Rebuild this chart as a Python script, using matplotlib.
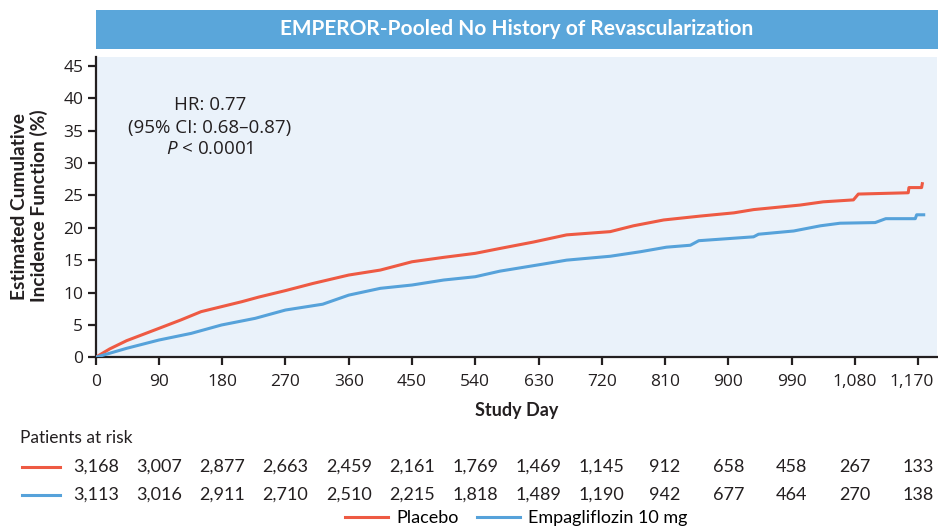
import matplotlib.pyplot as plt
from matplotlib.patches import Rectangle
from matplotlib.transforms import blended_transform_factory, ScaledTranslation

plt.rcParams['font.family'] = ['Open Sans', 'DejaVu Sans']
plt.rcParams['mathtext.fontset'] = 'custom'
plt.rcParams['mathtext.it'] = 'Open Sans:italic'
plt.rcParams['mathtext.rm'] = 'Open Sans'

# datos
dias_placebo = [0, 20, 44, 90, 121, 150, 179, 208, 232, 270, 309, 360, 405, 450, 495, 540,
                575, 623, 670, 732, 765, 808, 860, 908, 936, 1002, 1035, 1078, 1085,
                1156, 1157, 1175, 1176]
cif_placebo = [0, 1.3, 2.57, 4.47, 5.76, 7.05, 7.82, 8.59, 9.3, 10.3, 11.4, 12.7, 13.47, 14.75,
               15.43, 16.05, 16.8, 17.8, 18.9, 19.4, 20.3, 21.2, 21.8, 22.3, 22.8, 23.5, 24.0,
               24.3, 25.2, 25.4, 26.2, 26.2, 26.8]

dias_empa = [0, 44, 90, 136, 179, 227, 270, 323, 360, 405, 450, 495, 540, 575, 637, 670, 732,
             775, 812, 846, 858, 936, 943, 993, 1031, 1059, 1109, 1124, 1166, 1168, 1178]
cif_empa = [0, 1.39, 2.67, 3.70, 4.99, 6.02, 7.3, 8.2, 9.6, 10.65, 11.16, 11.93, 12.44, 13.3,
            14.4, 15.0, 15.6, 16.3, 17.0, 17.3, 18.0, 18.6, 19.0, 19.5, 20.3, 20.7, 20.8, 21.4,
            21.4, 22.0, 22.0]

ticks_x = [0, 90, 180, 270, 360, 450, 540, 630, 720, 810, 900, 990, 1080, 1170]
rotulos_x = ['0', '90', '180', '270', '360', '450', '540', '630', '720', '810', '900', '990',
             '1,080', '1,170']
risco_placebo = ['3,168', '3,007', '2,877', '2,663', '2,459', '2,161', '1,769', '1,469', '1,145',
                 '912', '658', '458', '267', '133']
risco_empa = ['3,113', '3,016', '2,911', '2,710', '2,510', '2,215', '1,818', '1,489', '1,190',
              '942', '677', '464', '270', '138']

vermelho = '#EE5A43'
azul = '#56A2DA'
escuro = '#231F20'
narrow = ['Lato', 'DejaVu Sans']

fig = plt.figure(figsize=(9.38, 5.3), dpi=100)
ax = fig.add_axes([0.102, 0.3258, 0.897, 0.5666])
ax.set_facecolor('#EAF2FA')

l1, = ax.plot(dias_placebo, cif_placebo, color=vermelho, lw=2.2, label='Placebo', zorder=3)
l2, = ax.plot(dias_empa, cif_empa, color=azul, lw=2.2, label='Empagliflozin 10 mg', zorder=3)

ax.set_xlim(0, 1197)
ax.set_ylim(0, 46.35)
ax.set_xticks(ticks_x)
ax.set_xticklabels(rotulos_x)
ax.set_yticks(range(0, 50, 5))
for s in ['top', 'right']:
    ax.spines[s].set_visible(False)
for s in ['left', 'bottom']:
    ax.spines[s].set_linewidth(1.6)
    ax.spines[s].set_color(escuro)
ax.tick_params(direction='out', length=6, width=1.6, color=escuro, labelsize=12.5,
               labelcolor=escuro, pad=3)
ax.tick_params(axis='x', pad=6)
# o ultimo rotulo fica um pouco a esquerda para caber
ultimo = ax.get_xticklabels()[-1]
ultimo.set_transform(ultimo.get_transform() + ScaledTranslation(-0.06, 0, fig.dpi_scale_trans))

ax.set_xlabel('Study Day', fontsize=13, fontweight='bold', family=narrow, color=escuro, labelpad=9)
fig.text(29.5 / 938, 1 - 206 / 530, 'Estimated Cumulative\nIncidence Function (%)', rotation=90,
         ha='center', va='center', fontsize=13.8, fontweight='bold', family=narrow, color=escuro,
         linespacing=1.1)

tx = blended_transform_factory(fig.transFigure, ax.transData)
ax.text(210 / 938, 39.0, 'HR: 0.77', ha='center', va='center', fontsize=13.5, color=escuro,
        transform=tx)
ax.text(210 / 938, 35.4, '(95% CI: 0.68\u20130.87)', ha='center', va='center', fontsize=13.5,
        color=escuro, transform=tx)
ax.text(210 / 938, 32.1, r'$\it{P}$ < 0.0001', ha='center', va='center', fontsize=13.5,
        color=escuro, transform=tx)

# barra do titulo
fig.patches.append(Rectangle((0.102, 1 - 49 / 530), 0.898, 39 / 530, transform=fig.transFigure,
                             facecolor='#5AA6DA', edgecolor='none'))
fig.text(0.551, 1 - 29 / 530, 'EMPEROR-Pooled No History of Revascularization', ha='center',
         va='center', fontsize=15, fontweight='bold', color='white', family=narrow)

# pacientes em risco
fig.text(20 / 938, 1 - 438 / 530, 'Patients at risk', ha='left', va='center', fontsize=12.5,
         color=escuro, family=narrow)
trans = blended_transform_factory(ax.transData, fig.transFigure)
for linha, valores, cor in [(467, risco_placebo, vermelho), (495, risco_empa, azul)]:
    y = 1 - linha / 530
    fig.add_artist(plt.Line2D([22 / 938, 60 / 938], [y, y], color=cor, lw=2.2,
                              transform=fig.transFigure))
    for x, v in zip(ticks_x, valores):
        fig.text(x, y, v, ha='center', va='center', fontsize=13, color=escuro, family=narrow,
                 transform=trans)

fig.legend(handles=[l1, l2], loc='center', bbox_to_anchor=(0.5506, 0.0226), ncol=2,
           frameon=False, handlelength=2.4, handletextpad=0.45, columnspacing=1.0,
           prop={'family': narrow, 'size': 13})

plt.savefig('out.png', dpi=100)
